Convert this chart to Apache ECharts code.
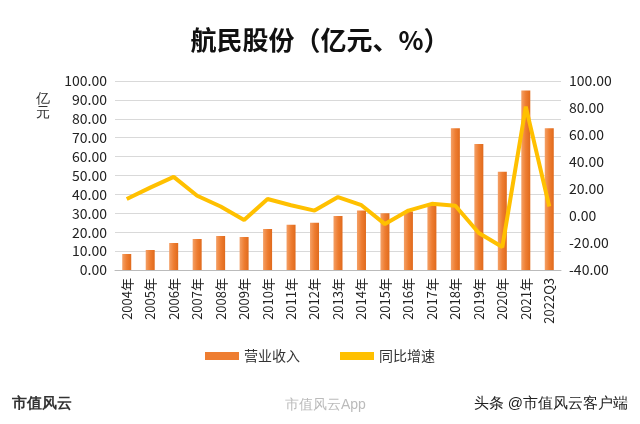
<!DOCTYPE html>
<html>
<head>
<meta charset="utf-8">
<script src="https://cdn.jsdelivr.net/npm/echarts@6/dist/echarts.min.js"></script>
<style>
  html, body { margin: 0; padding: 0; background: #fff; }
  #chart { width: 640px; height: 424px; }
</style>
</head>
<body>
<div id="chart"></div>
<script>
const years = ["2004年", "2005年", "2006年", "2007年", "2008年", "2009年", "2010年", "2011年", "2012年", "2013年",
  "2014年", "2015年", "2016年", "2017年", "2018年", "2019年", "2020年", "2021年", "2022Q3"];
const revenue = [8.5, 10.6, 14.3, 16.4, 18.0, 17.5, 21.7, 24.0, 25.0, 28.6,
  31.5, 30.0, 31.0, 34.0, 75.0, 66.7, 52.0, 95.0, 75.0];
const growth = [12.6, 21, 29, 15, 7, -3, 12.6, 8, 4, 14,
  8, -6, 4, 9, 7.6, -12.6, -23, 81, 7];

const chart = echarts.init(document.getElementById("chart"));

const font = "'Noto Sans CJK SC', 'Noto Sans', sans-serif";

chart.setOption({
  textStyle: { fontFamily: font },
  title: {
    text: "航民股份（亿元、%）",
    left: "center",
    top: 22,
    textStyle: { fontSize: 26, fontWeight: "bold", color: "#111", fontFamily: font },
  },
  legend: {
    bottom: 56,
    itemGap: 40,
    textStyle: { fontSize: 14, color: "#333" },
    data: [
      { name: "营业收入", icon: "rect", itemStyle: { color: "#ee7d31" } },
      { name: "同比增速", icon: "rect" },
    ],
    itemWidth: 34,
    itemHeight: 8,
  },
  graphic: [
    { type: "text", left: 36, top: 92, style: { text: "亿\n元", fontSize: 14, fill: "#333", lineHeight: 14 } },
    { type: "text", left: 12, top: 396, style: { text: "市值风云", fontSize: 15, fontWeight: "bold", fill: "#333" } },
    { type: "text", left: 285, top: 398, style: { text: "市值风云App", fontSize: 14, fill: "#bbb" } },
    { type: "text", right: 12, top: 396, style: { text: "头条 @市值风云客户端", fontSize: 15, fill: "#222" } },
  ],
  grid: { left: 115, right: 79, top: 81, bottom: 154 },
  xAxis: {
    type: "category",
    data: years,
    axisTick: { show: false },
    axisLine: { lineStyle: { color: "#bbb" } },
    axisLabel: { rotate: 90, color: "#222", fontSize: 13, interval: 0 },
  },
  yAxis: [
    {
      type: "value",
      min: 0, max: 100, interval: 10,
      axisLabel: { color: "#222", fontSize: 14, formatter: (v) => v.toFixed(2) },
      splitLine: { lineStyle: { color: "#d9d9d9" } },
    },
    {
      type: "value",
      min: -40, max: 100, interval: 20,
      axisLabel: { color: "#222", fontSize: 14, formatter: (v) => v.toFixed(2) },
      splitLine: { show: false },
    },
  ],
  series: [
    {
      name: "营业收入",
      type: "bar",
      data: revenue,
      barWidth: 9,
      itemStyle: {
        color: new echarts.graphic.LinearGradient(0, 0, 1, 0, [
          { offset: 0, color: "#f4a066" },
          { offset: 0.5, color: "#ee7d31" },
          { offset: 1, color: "#e06a1c" },
        ]),
      },
    },
    {
      name: "同比增速",
      type: "line",
      yAxisIndex: 1,
      data: growth,
      symbol: "none",
      lineStyle: { color: "#ffc000", width: 4 },
      itemStyle: { color: "#ffc000" },
    },
  ],
});
</script>
</body>
</html>
